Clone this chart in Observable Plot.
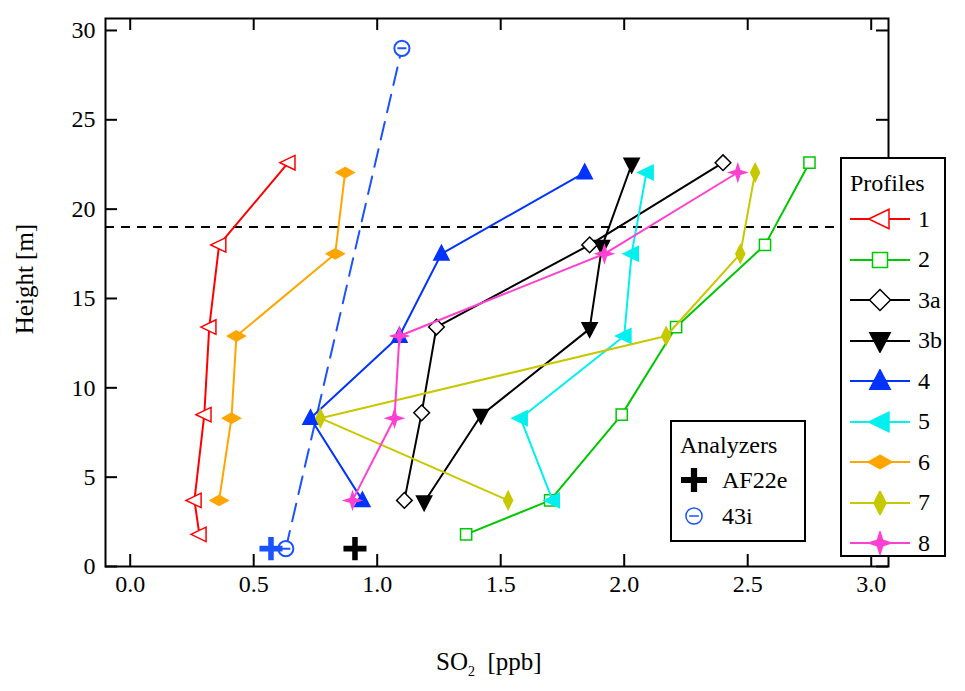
<!DOCTYPE html>
<html><head><meta charset="utf-8">
<script src="https://cdn.jsdelivr.net/npm/d3@7"></script>
<script src="https://cdn.jsdelivr.net/npm/@observablehq/plot@0.6"></script>
<style>body{margin:0;background:#fff;font-family:"Liberation Serif","Times New Roman",serif}#wrap{position:relative;width:965px;height:691px;font-family:"Liberation Serif","Times New Roman",serif}
svg text{font-family:"Liberation Serif","Times New Roman",serif !important}
.leg{position:absolute;border:2px solid #000;background:#fff;font-size:24px}
.leg div{display:flex;align-items:center;height:29px}
.leg svg{margin-right:8px}</style>
</head><body><div id="wrap"></div>
<script>
const FONT='"Liberation Serif","Times New Roman",serif';
const profiles = ["1","2","3a","3b","4","5","6","7","8"];
const heights = [1.8,3.7,8.5,13.4,18.0,22.6];
const x1 = [0.28,0.26,0.30,0.32,0.36,0.64];
const x2 = [1.36,1.70,1.99,2.21,2.57,2.75];
const x3a = [1.11,1.18,1.24,1.86,2.40];
const h3a = [3.7,8.6,13.4,18.0,22.6];
const x3b = [1.19,1.42,1.86,1.91,2.03];
const h3b = [3.6,8.45,13.3,17.9,22.5];
const hB = [3.7,8.3,12.9,17.5,22.05];
const x4 = [0.94,0.73,1.09,1.26,1.84];
const x5 = [1.71,1.58,2.00,2.03,2.09];
const x6 = [0.36,0.41,0.43,0.83,0.87];
const x7 = [1.53,0.77,2.17,2.47,2.53];
const x8 = [0.90,1.07,1.09,1.92,2.46];
const af22eX = [0.91], af22eBlueX=[0.57], analyzerH=[1.0];
const i43X = [0.63,1.10], i43H = [1.0,29.0];
const limitH = 19;
const xTicks = [0,0.5,1,1.5,2,2.5,3];
const yTicks = [0,5,10,15,20,25,30];

function mk(pts){return {draw(c,s){const r=Math.sqrt(s);c.moveTo(pts[0][0]*r,pts[0][1]*r);for(const p of pts.slice(1))c.lineTo(p[0]*r,p[1]*r);c.closePath();}};}
const triL = mk([[-0.75,0],[0.6,-0.65],[0.6,0.65]]);
const triU = mk([[0,-0.75],[0.68,0.55],[-0.68,0.55]]);
const triD = mk([[0,0.75],[0.68,-0.55],[-0.68,-0.55]]);
const sq = mk([[-0.5,-0.5],[0.5,-0.5],[0.5,0.5],[-0.5,0.5]]);
const dia = mk([[0,-0.7],[0.7,0],[0,0.7],[-0.7,0]]);
const diaW = mk([[0,-0.45],[0.8,0],[0,0.45],[-0.8,0]]);
const diaT = mk([[0,-0.8],[0.4,0],[0,0.8],[-0.4,0]]);
const star4 = mk([[0,-0.75],[0.18,-0.18],[0.75,0],[0.18,0.18],[0,0.75],[-0.18,0.18],[-0.75,0],[-0.18,-0.18]]);
const plus = {draw(c,s){const r=Math.sqrt(s)*0.5,w=r*0.24;c.moveTo(-w,-r);c.lineTo(w,-r);c.lineTo(w,-w);c.lineTo(r,-w);c.lineTo(r,w);c.lineTo(w,w);c.lineTo(w,r);c.lineTo(-w,r);c.lineTo(-w,w);c.lineTo(-r,w);c.lineTo(-r,-w);c.lineTo(-w,-w);c.closePath();}};
const circ = {draw(c,s){const r=Math.sqrt(s)*0.45;c.moveTo(r,0);c.arc(0,0,r,0,2*Math.PI);c.moveTo(-r*0.6,0);c.lineTo(r*0.6,0);}};

const S = [
 {id:"1",xs:x1,hs:heights,color:"#ff0000",sym:triL,fill:false},
 {id:"2",xs:x2,hs:heights,color:"#00c800",sym:sq,fill:false},
 {id:"3a",xs:x3a,hs:h3a,color:"#000000",sym:dia,fill:false},
 {id:"3b",xs:x3b,hs:h3b,color:"#000000",sym:triD,fill:true},
 {id:"4",xs:x4,hs:hB,color:"#0033ff",sym:triU,fill:true},
 {id:"5",xs:x5,hs:hB,color:"#00f0f0",sym:triL,fill:true},
 {id:"6",xs:x6,hs:hB,color:"#ffa500",sym:diaW,fill:true},
 {id:"7",xs:x7,hs:hB,color:"#c8c800",sym:diaT,fill:true},
 {id:"8",xs:x8,hs:hB,color:"#ff40d0",sym:star4,fill:true}];

const marks=[];
const xd=[-0.1,3.07], yd=[0,30.67];
marks.push(Plot.ruleY([limitH],{stroke:"#000",strokeWidth:2,strokeDasharray:"9,7"}));
marks.push(Plot.line(i43X.map((x,i)=>({x,h:i43H[i]})),{x:"x",y:"h",stroke:"#1a53ff",strokeWidth:2,strokeDasharray:"18,10"}));
for(const s of S){
  const d=s.xs.map((x,i)=>({x,h:s.hs[i]}));
  marks.push(Plot.line(d,{x:"x",y:"h",stroke:s.color,strokeWidth:2}));
  marks.push(Plot.dot(d,{x:"x",y:"h",symbol:()=>s.sym,r:6.3,stroke:s.color,strokeWidth:1.5,fill:s.fill?s.color:"#fff"}));
}
marks.push(Plot.dot(i43X.map((x,i)=>({x,h:i43H[i]})),{x:"x",y:"h",symbol:()=>circ,r:9.5,stroke:"#1a53ff",strokeWidth:2,fill:"#fff"}));
marks.push(Plot.dot(af22eX.map(x=>({x,h:analyzerH[0]})),{x:"x",y:"h",symbol:()=>plus,r:13,fill:"#000"}));
marks.push(Plot.dot(af22eBlueX.map(x=>({x,h:analyzerH[0]})),{x:"x",y:"h",symbol:()=>plus,r:13,fill:"#1a53ff"}));
const tx=12/246.7, ty=12/17.87;
marks.push(Plot.ruleX(xTicks,{x:d=>d,y1:0,y2:ty,stroke:"#000",strokeWidth:2}));
marks.push(Plot.ruleX(xTicks,{x:d=>d,y1:yd[1],y2:yd[1]-ty,stroke:"#000",strokeWidth:2}));
marks.push(Plot.ruleY(yTicks,{y:d=>d,x1:xd[0],x2:xd[0]+tx,stroke:"#000",strokeWidth:2}));
marks.push(Plot.ruleY(yTicks,{y:d=>d,x1:xd[1],x2:xd[1]-tx,stroke:"#000",strokeWidth:2}));
marks.push(Plot.frame({stroke:"#000",strokeWidth:2}));
marks.push(Plot.axisX({ticks:xTicks,tickSize:0,tickPadding:8,tickFormat:d3.format(".1f"),fontSize:24,fontFamily:FONT,label:null}));
marks.push(Plot.axisY({ticks:yTicks,tickSize:0,tickPadding:10,fontSize:24,fontFamily:FONT,label:null}));

const chart=Plot.plot({width:965,height:691,marginLeft:105,marginRight:77,marginTop:18,marginBottom:125,
 x:{domain:xd},y:{domain:yd},style:{fontFamily:FONT,color:"#000",background:"#fff"},marks});
chart.setAttribute("font-family",FONT);
const wrap=document.getElementById("wrap");wrap.appendChild(chart);

function lab(html,css){const d=document.createElement("div");d.innerHTML=html;d.style.cssText="position:absolute;font-size:25px;"+css;wrap.appendChild(d);}
lab("SO<sub style='font-size:14px'>2</sub>&nbsp; [ppb]","left:436px;top:648px;");
lab("Height [m]","left:-40px;top:265px;transform:rotate(-90deg);width:130px;text-align:center;");

function icon(sym,color,fill,line,r){
  const p=d3.path();sym.draw(p,r*r);
  return `<svg width="60" height="24">${line?`<line x1="0" y1="12" x2="60" y2="12" stroke="${color}" stroke-width="2"/>`:""}<path transform="translate(30,12)" d="${p}" stroke="${color}" stroke-width="1.5" fill="${fill}"/></svg>`;
}
const L1=document.createElement("div");L1.className="leg";L1.style.cssText="left:840px;top:157px;width:106px;height:400px;padding:8px 0 0 8px;box-sizing:border-box";
L1.innerHTML="<div style='height:32px'>Profiles</div>"+S.map(s=>`<div style="height:40.5px">${icon(s.sym,s.color,s.fill?s.color:"#fff",true,15)}${s.id}</div>`).join("");
wrap.appendChild(L1);
const L2=document.createElement("div");L2.className="leg";L2.style.cssText="left:670px;top:420px;width:136px;height:122px;padding:6px 0 0 8px;box-sizing:border-box";
L2.innerHTML=`<div style="height:34px">Analyzers</div><div style="height:36px">${icon(plus,"none","#000",false,26).replace('width="60"','width="34"').replace('translate(30','translate(14')}AF22e</div><div style="height:36px">${icon(circ,"#1a53ff","#fff",false,18).replace('width="60"','width="34"').replace('translate(30','translate(14')}43i</div>`;
wrap.appendChild(L2);
</script></body></html>
